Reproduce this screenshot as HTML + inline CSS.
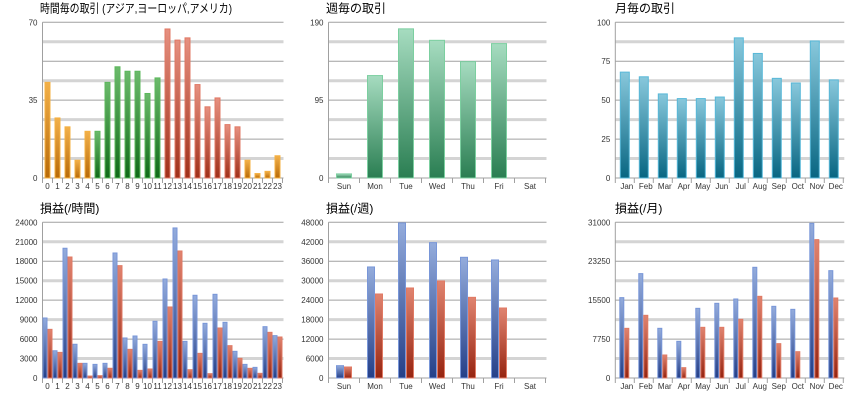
<!DOCTYPE html>
<html><head><meta charset="utf-8"><style>
html,body{margin:0;padding:0;background:#fff;}
svg{display:block;font-family:"Liberation Sans","Noto Sans CJK JP",sans-serif;}
</style></head><body>
<svg id="s" width="860" height="400">
<defs>
<linearGradient id="gOr" x1="0" y1="0" x2="0" y2="1"><stop offset="0" stop-color="#f2b04a"/><stop offset="1" stop-color="#b86a08"/></linearGradient>
<linearGradient id="gGr" x1="0" y1="0" x2="0" y2="1"><stop offset="0" stop-color="#6cba6c"/><stop offset="1" stop-color="#0f6a18"/></linearGradient>
<linearGradient id="gRd" x1="0" y1="0" x2="0" y2="1"><stop offset="0" stop-color="#e69080"/><stop offset="1" stop-color="#a0301a"/></linearGradient>
<linearGradient id="gMt" x1="0" y1="0" x2="0" y2="1"><stop offset="0" stop-color="#a6dcc0"/><stop offset="1" stop-color="#2a7e52"/></linearGradient>
<linearGradient id="gTl" x1="0" y1="0" x2="0" y2="1"><stop offset="0" stop-color="#88c8dc"/><stop offset="1" stop-color="#086682"/></linearGradient>
<linearGradient id="gBl" x1="0" y1="0" x2="0" y2="1"><stop offset="0" stop-color="#94acdc"/><stop offset="1" stop-color="#243f88"/></linearGradient>
<linearGradient id="gRr" x1="0" y1="0" x2="0" y2="1"><stop offset="0" stop-color="#e08470"/><stop offset="1" stop-color="#962410"/></linearGradient>
</defs>
</svg>
<script>
const hours = ['0','1','2','3','4','5','6','7','8','9','10','11','12','13','14','15','16','17','18','19','20','21','22','23'];
const days = ['Sun','Mon','Tue','Wed','Thu','Fri','Sat'];
const months = ['Jan','Feb','Mar','Apr','May','Jun','Jul','Aug','Sep','Oct','Nov','Dec'];
const hourTrades = [43,27,23,8,21,21,43,50,48,48,38,45,67,62,63,42,32,36,24,23,8,2,3,10];
const hourRegion = ['o','o','o','o','o','g','g','g','g','g','g','g','r','r','r','r','r','r','r','r','o','o','o','o'];
const dayTrades = [5,125,182,168,142,164,0];
const monthTrades = [68,65,54,51,51,52,90,80,64,61,88,63];
const hourProfitA = [9250,4200,20000,5200,2260,2100,2260,19270,6170,6475,5190,8740,15260,23130,5650,12750,8430,12900,8580,4110,2100,1640,7910,6530];
const hourProfitB = [7500,3950,18650,2260,300,360,1500,17320,4420,1180,1390,5650,10950,19580,1280,3800,670,7710,4985,3030,1490,720,7040,6320];
const dayProfitA = [3800,34230,47800,41730,37210,36390,0];
const dayProfitB = [3390,25900,27750,29910,24870,21580,0];
const monthProfitA = [16000,20780,9890,7300,13870,14870,15730,22040,14270,13670,30800,21370];
const monthProfitB = [9890,12480,4580,2060,10090,10090,11680,16260,6840,5240,27550,15930];
const ticksHT = ['0','35','70'];
const ticksDT = ['0','95','190'];
const ticksMT = ['0','25','50','75','100'];
const ticksHP = ['0','3000','6000','9000','12000','15000','18000','21000','24000'];
const ticksDP = ['0','6000','12000','18000','24000','30000','36000','42000','48000'];
const ticksMP = ['0','7750','15500','23250','31000'];

const svg = document.getElementById('s');
const NS = 'http://www.w3.org/2000/svg';
function mk(tag, attrs, parent){const e=document.createElementNS(NS,tag);for(const k in attrs)e.setAttribute(k,attrs[k]);(parent||svg).appendChild(e);return e;}

function chart(o){
  const g = mk('g',{});
  
  
  const x0=o.x0,x1=o.x1,y0=o.y0,y1=o.y1,H=y1-y0;
  const ta={x:o.tx,y:y0-10,'font-size':12,fill:'#000'};
  if(o.tlen){ta.textLength=o.tlen;ta.lengthAdjust='spacingAndGlyphs';}
  const t = mk('text',ta,g);
  t.textContent=o.title;
  
  
  const ys = v => y1 - v/o.max*H;
  for(let i=0;i<=8;i++){
    const y=y0+H*i/8;
    const l = mk('line',{x1:x0,x2:x1+1,y1:y,y2:y,stroke:i%2?'#d4d4d4':'#a0a0a0','stroke-width':i%2?3:1},g);
    
    
  }
  mk('line',{x1:x0,x2:x0,y1:y0,y2:y1+5,stroke:'#a0a0a0'},g);
  o.ticks.forEach((tk,i)=>{
    const v=+tk;
    const tt=mk('text',{x:x0-5,y:ys(v)+3,'font-size':8,'text-anchor':'end',fill:'#333'},g);
    tt.textContent=tk;
    
    
  });
  const bw=(x1-x0)/o.cats.length;
  o.cats.forEach((c,i)=>{
    const bx=x0+i*bw;
    mk('line',{x1:bx+bw,x2:bx+bw,y1:y1,y2:y1+5,stroke:'#a0a0a0'},g);
    const lt=mk('text',{x:bx+bw/2+(o.lo||0),y:y1+11,'font-size':8,'text-anchor':'middle',fill:'#333'},g);
    lt.textContent=c;
    
    
    if(o.series.length===1){
      const v=o.series[0][i]; if(!v) return;
      const w=o.w, fill=o.fill(i);
      const r=mk('rect',{x:bx+(bw-w)/2,y:ys(v),width:w,height:y1-ys(v),fill:fill.f,stroke:fill.s,'stroke-width':1},g);
      
      
    } else {
      const w=o.w;
      const start=bx+(bw-2*w)/2+(o.off||0);
      [['url(#gBl)','#7896d8'],['url(#gRr)','#e07a64']].forEach((st,k)=>{
        const v=o.series[k][i]; if(!v) return;
        const r=mk('rect',{x:start+k*w+0.5,y:ys(v),width:w-1,height:y1-ys(v),fill:st[0],stroke:st[1],'stroke-width':1},g);
        
        
      });
    }
  });
}
const regionFill={o:{f:'url(#gOr)',s:'#f5b040'},g:{f:'url(#gGr)',s:'#5cb85c'},r:{f:'url(#gRd)',s:'#e07864'}};
chart({name:'hourly-trades-chart',title:'時間毎の取引 (アジア,ヨーロッパ,アメリカ)',tlen:192,tx:40,x0:42.5,x1:282.5,y0:22.3,y1:178,max:70,ticks:ticksHT,cats:hours,series:[hourTrades],w:5,fill:i=>regionFill[hourRegion[i]]});
chart({name:'weekly-trades-chart',title:'週毎の取引',tx:326,x0:328.5,x1:545.5,y0:22.3,y1:178,max:190,ticks:ticksDT,cats:days,series:[dayTrades],w:15,fill:i=>({f:'url(#gMt)',s:'#7ccfa0'})});
chart({name:'monthly-trades-chart',title:'月毎の取引',tx:615,x0:615.3,x1:843.3,y0:22.3,y1:178,max:100,ticks:ticksMT,cats:months,series:[monthTrades],w:9,lo:2,fill:i=>({f:'url(#gTl)',s:'#58b8d8'})});
chart({name:'hourly-profit-chart',title:'損益(/時間)',tx:40,x0:42.5,x1:282.5,y0:222.3,y1:378,max:24000,ticks:ticksHP,cats:hours,series:[hourProfitA,hourProfitB],w:5});
chart({name:'weekly-profit-chart',title:'損益(/週)',tx:326,x0:328.5,x1:545.5,y0:222.3,y1:378,max:48000,ticks:ticksDP,cats:days,series:[dayProfitA,dayProfitB],w:8});
chart({name:'monthly-profit-chart',title:'損益(/月)',tx:615,x0:615.3,x1:843.3,y0:222.3,y1:378,max:31000,ticks:ticksMP,cats:months,series:[monthProfitA,monthProfitB],w:5,lo:2,off:-0.5});
</script>
</body></html>
